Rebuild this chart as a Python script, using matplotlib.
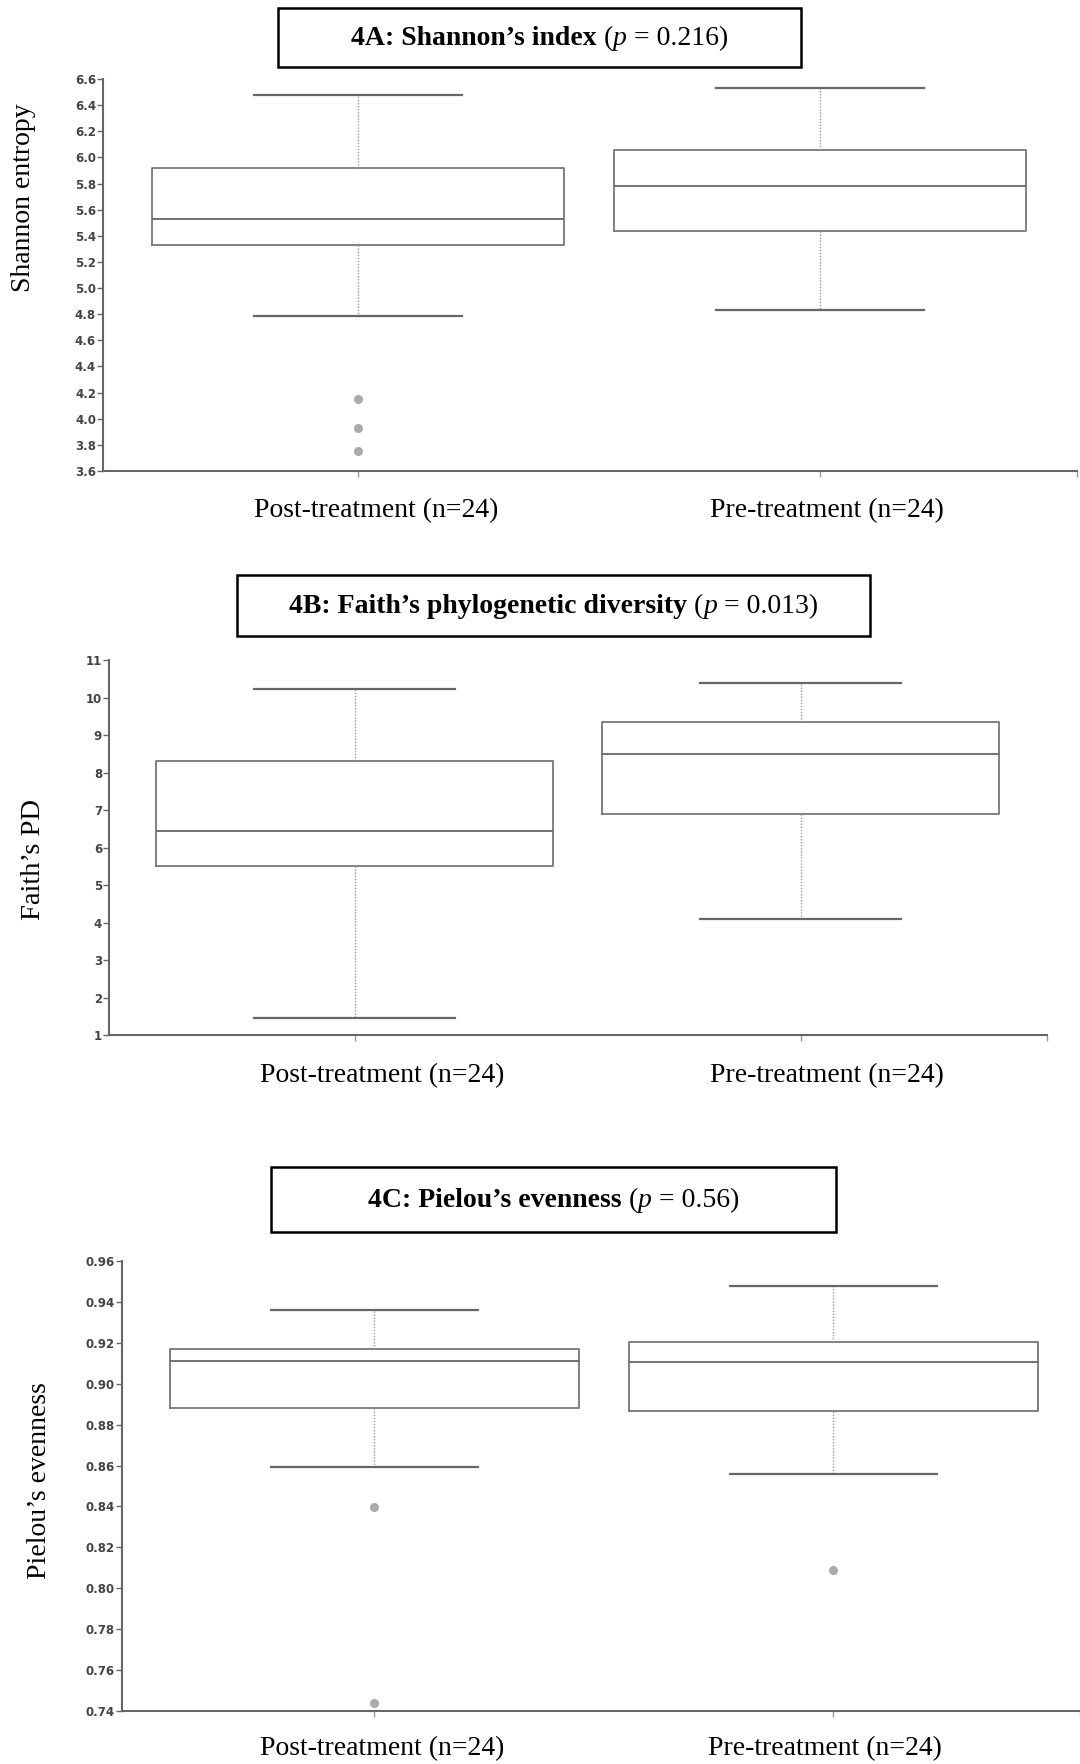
import matplotlib
matplotlib.use("Agg")
import matplotlib.pyplot as plt
from matplotlib.patches import Rectangle
from matplotlib.transforms import ScaledTranslation, blended_transform_factory

# - DATA -
groups = ["Post-treatment (n=24)", "Pre-treatment (n=24)"]

shannon_whislo = [4.79, 4.83]
shannon_q1 = [5.33, 5.44]
shannon_med = [5.53, 5.78]
shannon_q3 = [5.92, 6.06]
shannon_whishi = [6.48, 6.53]
shannon_fliers = [[4.15, 3.93, 3.75], []]
shannon_ticks = [3.6, 3.8, 4.0, 4.2, 4.4, 4.6, 4.8, 5.0, 5.2, 5.4, 5.6, 5.8, 6.0, 6.2, 6.4, 6.6]

faith_whislo = [1.46, 4.09]
faith_q1 = [5.52, 6.89]
faith_med = [6.45, 8.50]
faith_q3 = [8.31, 9.36]
faith_whishi = [10.24, 10.39]
faith_fliers = [[], []]
faith_ticks = [1, 2, 3, 4, 5, 6, 7, 8, 9, 10, 11]

pielou_whislo = [0.8595, 0.8558]
pielou_q1 = [0.888, 0.8866]
pielou_med = [0.9113, 0.9105]
pielou_q3 = [0.9172, 0.9204]
pielou_whishi = [0.9361, 0.9476]
pielou_fliers = [[0.8399, 0.7441], [0.809]]
pielou_ticks = [0.74, 0.76, 0.78, 0.80, 0.82, 0.84, 0.86, 0.88, 0.90, 0.92, 0.94, 0.96]
# - DATA -

W, H = 1080, 1764
fig = plt.figure(figsize=(W / 100, H / 100), dpi=100)
serif = "Liberation Serif"


def px_axes(x0, x1, ytop, ybot):
    return fig.add_axes([x0 / W, 1 - ybot / H, (x1 - x0) / W, (ybot - ytop) / H])


def make_stats(lo, q1, med, q3, hi, fl):
    return [dict(whislo=lo[i], q1=q1[i], med=med[i], q3=q3[i], whishi=hi[i], fliers=fl[i])
            for i in range(len(groups))]


def draw_panel(ax, stats, ticks, fmt, xlim, label_dy, label_dx):
    ax.bxp(stats, positions=[0, 1], widths=0.89, capwidths=0.45, patch_artist=False,
           boxprops=dict(color="#777777", lw=1.3),
           medianprops=dict(color="#666666", lw=1.3),
           whiskerprops=dict(color="#999999", lw=1.0, ls=(0, (1, 1.2))),
           capprops=dict(color="#666666", lw=1.6),
           flierprops=dict(marker="o", markersize=6.5, markerfacecolor="#aaaaaa",
                           markeredgecolor="none"))
    ax.set_xlim(*xlim)
    ax.set_ylim(ticks[0], ticks[-1])
    ax.set_yticks(ticks)
    ax.set_yticklabels([fmt.format(t) for t in ticks], fontsize=8.5, color="#444444",
                       fontweight="bold")
    ax.set_xticks([0, 1])
    ax.set_xticklabels([])
    ax.set_xticks([xlim[1]], minor=True)
    # group labels sit a little off the tick marks, as in the original figure
    base = blended_transform_factory(ax.transData, ax.transAxes)
    for i, name in enumerate(groups):
        off = ScaledTranslation(label_dx[i] / 100, -label_dy / 100, fig.dpi_scale_trans)
        ax.text(i, 0, name, transform=base + off, fontsize=20, family=serif,
                ha="center", va="center")
    for s in ["top", "right"]:
        ax.spines[s].set_visible(False)
    for s in ["left", "bottom"]:
        ax.spines[s].set_color("#666666")
        ax.spines[s].set_linewidth(1.5)
        ax.spines[s].set_clip_on(False)
    ax.tick_params(axis="y", length=4, width=1, color="#666666", pad=1)
    ax.tick_params(axis="x", which="both", length=4, width=1, color="#999999")
    ax.set_facecolor("none")


def boxed_title(x0, x1, y0, y1, parts, size=20):
    fig.patches.append(Rectangle((x0 / W, 1 - y1 / H), (x1 - x0) / W, (y1 - y0) / H,
                                 transform=fig.transFigure, fill=False, ec="black", lw=1.8))
    r = fig.canvas.get_renderer()
    probe1 = fig.text(0, 0, "a a", fontsize=size, family=serif)
    probe2 = fig.text(0, 0, "aa", fontsize=size, family=serif)
    space = probe1.get_window_extent(r).width - probe2.get_window_extent(r).width
    probe1.remove()
    probe2.remove()
    ybase = (y0 + y1) / 2 + size * 0.36
    texts, total = [], 0
    for s, wt, st, gap in parts:
        t = fig.text(0, 1 - ybase / H, s, fontsize=size, family=serif, fontweight=wt,
                     fontstyle=st, va="baseline", ha="left")
        w = t.get_window_extent(r).width
        texts.append((t, w, gap))
        total += w + (space if gap else 0)
    x = (x0 + x1) / 2 - total / 2
    for t, w, gap in texts:
        t.set_x(x / W)
        x += w + (space if gap else 0)


# Panel A
axA = px_axes(103, 1077, 79, 471)
draw_panel(axA, make_stats(shannon_whislo, shannon_q1, shannon_med, shannon_q3, shannon_whishi,
                           shannon_fliers),
           shannon_ticks, "{:.1f}", (-0.552, 1.556), 39.5, [18, 7])
boxed_title(278, 801, 8, 67, [("4A: Shannon\u2019s index", "bold", "normal", True),
                              ("(", "normal", "normal", False),
                              ("p", "normal", "italic", True),
                              ("= 0.216)", "normal", "normal", False)])
fig.text(24 / W, 1 - 198 / H, "Shannon entropy", rotation=90, fontsize=20, family=serif,
         ha="center", va="center")

# Panel B
axB = px_axes(109, 1047, 660, 1035)
draw_panel(axB, make_stats(faith_whislo, faith_q1, faith_med, faith_q3, faith_whishi,
                           faith_fliers),
           faith_ticks, "{:d}", (-0.551, 1.552), 40.5, [27, 26])
boxed_title(237, 870, 575, 636, [("4B: Faith\u2019s phylogenetic diversity", "bold", "normal", True),
                                 ("(", "normal", "normal", False),
                                 ("p", "normal", "italic", True),
                                 ("= 0.013)", "normal", "normal", False)])
fig.text(33 / W, 1 - 860 / H, "Faith\u2019s PD", rotation=90, fontsize=20.5, family=serif,
         ha="center", va="center")

# Panel C
axC = px_axes(122, 1080, 1261, 1711)
draw_panel(axC, make_stats(pielou_whislo, pielou_q1, pielou_med, pielou_q3, pielou_whishi,
                           pielou_fliers),
           pielou_ticks, "{:.2f}", (-0.55, 1.537), 37.5, [8, -9])
boxed_title(271, 836, 1167, 1232, [("4C: Pielou\u2019s evenness", "bold", "normal", True),
                                   ("(", "normal", "normal", False),
                                   ("p", "normal", "italic", True),
                                   ("= 0.56)", "normal", "normal", False)])
fig.text(40 / W, 1 - 1481 / H, "Pielou\u2019s evenness", rotation=90, fontsize=20, family=serif,
         ha="center", va="center")

fig.savefig("out.png", dpi=100, facecolor="white")
